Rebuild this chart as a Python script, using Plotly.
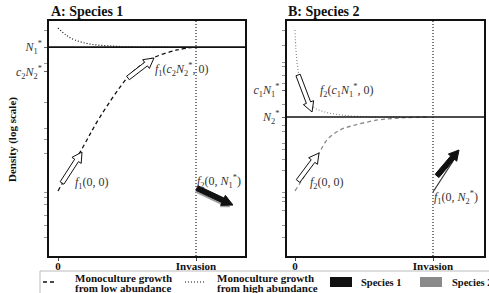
import math
import numpy as np
import plotly.graph_objects as go

# ---------------- data (x: 0 = start, 1 = invasion; y: relative density) -------------
x_ticks = [0, 1]
x_ticklabels = ["0", "Invasion"]

# Panel A: species 1
a_low_x = [0, 0.181, 0.304, 0.507, 0.594, 0.688, 0.862, 1.0]
a_low_y = [0.0252, 0.0776, 0.167, 0.466, 0.617, 0.757, 0.929, 1.0]
a_high_x = [0, 0.058, 0.123, 0.232, 0.377, 0.594, 0.812]
a_high_y = [1.63, 1.36, 1.20, 1.08, 1.03, 1.0, 1.0]
a_eq = 1.0            # N1*
a_c2N2 = 0.529        # c2 N2*

# Panel B: species 2
b_low_x = [0, 0.087, 0.174, 0.232, 0.326, 0.435, 0.601, 0.761, 0.978]
b_low_y = [0.0252, 0.0409, 0.0665, 0.0929, 0.120, 0.136, 0.155, 0.163, 0.167]
b_high_x = [0, 0.007, 0.022, 0.051, 0.123, 0.217, 0.341, 0.543, 0.761]
b_high_y = [1.55, 0.929, 0.557, 0.352, 0.222, 0.190, 0.176, 0.167, 0.167]
b_eq = 0.167          # N2*
b_c1N1 = 0.333        # c1 N1*

a_ticklabels = ["<i>N</i><sub>1</sub><sup>*</sup>", "<i>c</i><sub>2</sub><i>N</i><sub>2</sub><sup>*</sup>"]
b_ticklabels = ["<i>c</i><sub>1</sub><i>N</i><sub>1</sub><sup>*</sup>", "<i>N</i><sub>2</sub><sup>*</sup>"]

a_minor = [0.19, -0.177, -0.61, -0.899, -1.032, -1.177, -1.621, -1.666, -1.754, -1.866, -1.977, -2.11]
b_minor = [0.19, 0.023, -0.166, -0.221, -0.31, -0.399, -0.643, -0.866, -0.943, -1.066, -1.143,
           -1.254, -1.366, -1.621, -1.666, -1.721, -1.81, -1.977, -2.11]

legend_labels = [["Monoculture growth", "from low abundance"],
                 ["Monoculture growth", "from high abundance"],
                 "Species 1", "Species 2"]

SERIF = "Liberation Serif, Times New Roman, DejaVu Serif, serif"
BLACK = "#111111"
GRAY = "#8a8a8a"
DOT = "1px,2px"
DASH = "4px,3px"

L10 = lambda v: list(np.log10(np.array(v, dtype=float)))

fig = go.Figure()

# curves
fig.add_trace(go.Scatter(x=a_low_x, y=L10(a_low_y), mode="lines", line=dict(color=BLACK, width=1.3, dash=DASH, shape="spline"), xaxis="x", yaxis="y", showlegend=False))
fig.add_trace(go.Scatter(x=a_high_x, y=L10(a_high_y), mode="lines", line=dict(color=BLACK, width=1.2, dash=DOT, shape="spline"), xaxis="x", yaxis="y", showlegend=False))
fig.add_trace(go.Scatter(x=b_low_x, y=L10(b_low_y), mode="lines", line=dict(color=GRAY, width=1.3, dash=DASH, shape="spline"), xaxis="x2", yaxis="y2", showlegend=False))
fig.add_trace(go.Scatter(x=b_high_x, y=L10(b_high_y), mode="lines", line=dict(color=GRAY, width=1.2, dash=DOT, shape="spline"), xaxis="x2", yaxis="y2", showlegend=False))

shapes = []
annotations = []

# equilibrium lines and invasion lines
for xr, yr, eq in [("x", "y", a_eq), ("x2", "y2", b_eq)]:
    ly = math.log10(eq)
    shapes.append(dict(type="line", xref=xr + " domain", yref=yr, x0=0, x1=1, y0=ly, y1=ly,
                       line=dict(color=BLACK, width=1.6)))
    shapes.append(dict(type="line", xref=xr, yref=yr + " domain", x0=1, x1=1, y0=0, y1=1,
                       line=dict(color="#222", width=1.2, dash=DOT)))


def arrow_path(dx, dy, w, hw, hl):
    L = math.hypot(dx, dy)
    ux, uy = dx / L, dy / L
    px, py = -uy, ux
    n = L - hl
    pts = [(px * w / 2, py * w / 2),
           (ux * n + px * w / 2, uy * n + py * w / 2),
           (ux * n + px * hw / 2, uy * n + py * hw / 2),
           (dx, dy),
           (ux * n - px * hw / 2, uy * n - py * hw / 2),
           (ux * n - px * w / 2, uy * n - py * w / 2),
           (-px * w / 2, -py * w / 2)]
    return "M " + " L ".join(f"{a:.2f},{b:.2f}" for a, b in pts) + " Z"


def add_arrow(xr, yr, x, ly, dx, dy, fill, line, w=4.5, hw=11, hl=10, lw=1):
    shapes.append(dict(type="path", xref=xr, yref=yr, xsizemode="pixel", ysizemode="pixel",
                       xanchor=x, yanchor=ly, path=arrow_path(dx, dy, w, hw, hl),
                       fillcolor=fill, line=dict(color=line, width=lw)))

# hollow arrows (monoculture growth)
add_arrow("x", "y", 0.029, -1.51, 20, 31, "white", BLACK)
add_arrow("x", "y", 0.507, -0.343, 26, 20, "white", BLACK)
add_arrow("x2", "y2", 0.022, -0.31, 14, -37, "white", BLACK)
add_arrow("x2", "y2", 0.022, -1.488, 21, 28, "white", BLACK)
# invasion arrows
add_arrow("x", "y", 1.0, -1.599, 34, -16, "#9a9a9a", "#9a9a9a", w=3, hw=8, hl=9, lw=0.5)
add_arrow("x", "y", 1.007, -1.566, 36, -17, BLACK, BLACK, w=5, hw=11, hl=11)
shapes.append(dict(type="line", xref="x2", yref="y2", x0=1.0, x1=1.174, y0=-1.61, y1=-1.199,
                   line=dict(color="#333", width=1.2)))
add_arrow("x2", "y2", 1.029, -1.432, 22, 26, BLACK, BLACK, w=5, hw=11, hl=10)

# math labels
MF = dict(family=SERIF, size=12, color="#333")
labels = [
    ("x", "y", 0.109, -1.51, "<i>f</i><sub>1</sub>(0, 0)"),
    ("x", "y", 0.688, -0.254, "<i>f</i><sub>1</sub>(<i>c</i><sub>2</sub><i>N</i><sub>2</sub><sup>*</sup>, 0)"),
    ("x", "y", 0.993, -1.488, "<i>f</i><sub>2</sub>(0, <i>N</i><sub>1</sub><sup>*</sup>)"),
    ("x2", "y2", 0.167, -0.477, "<i>f</i><sub>2</sub>(<i>c</i><sub>1</sub><i>N</i><sub>1</sub><sup>*</sup>, 0)"),
    ("x2", "y2", 0.094, -1.51, "<i>f</i><sub>2</sub>(0, 0)"),
    ("x2", "y2", 0.993, -1.666, "<i>f</i><sub>1</sub>(0, <i>N</i><sub>2</sub><sup>*</sup>)"),
]
for xr, yr, x, y, t in labels:
    annotations.append(dict(xref=xr, yref=yr, x=x, y=y, text=t, showarrow=False,
                            xanchor="left", yanchor="middle", font=MF))

W, H = 489, 293
px_x = lambda p: p / W
px_y = lambda p: (H - p) / H

# titles
TF = dict(family=SERIF, size=14, color=BLACK)
annotations.append(dict(xref="paper", yref="paper", x=px_x(49), y=px_y(11), text="<b>A: Species 1</b>",
                        showarrow=False, xanchor="left", yanchor="middle", font=TF))
annotations.append(dict(xref="paper", yref="paper", x=px_x(286), y=px_y(11), text="<b>B: Species 2</b>",
                        showarrow=False, xanchor="left", yanchor="middle", font=TF))
annotations.append(dict(xref="paper", yref="paper", x=px_x(12), y=px_y(140), text="<b>Density (log scale)</b>",
                        textangle=-90, showarrow=False, xanchor="center", yanchor="middle",
                        font=dict(family=SERIF, size=11, color=BLACK)))

# legend box
shapes.append(dict(type="rect", xref="paper", yref="paper", x0=px_x(40), x1=px_x(495), y0=px_y(300), y1=px_y(271),
                   line=dict(color="#bbbbbb", width=1), fillcolor="white", layer="below"))
shapes.append(dict(type="line", xref="paper", yref="paper", x0=px_x(43), x1=px_x(57), y0=px_y(282), y1=px_y(282),
                   line=dict(color=BLACK, width=1.3, dash=DASH)))
shapes.append(dict(type="line", xref="paper", yref="paper", x0=px_x(185), x1=px_x(206), y0=px_y(282), y1=px_y(282),
                   line=dict(color=BLACK, width=1, dash=DOT)))
shapes.append(dict(type="rect", xref="paper", yref="paper", x0=px_x(330), x1=px_x(352), y0=px_y(287), y1=px_y(277),
                   line=dict(width=0), fillcolor=BLACK))
shapes.append(dict(type="rect", xref="paper", yref="paper", x0=px_x(420), x1=px_x(442), y0=px_y(287), y1=px_y(277),
                   line=dict(width=0), fillcolor=GRAY))
LF = dict(family=SERIF, size=11, color=BLACK)
for xpx, lines in [(73, legend_labels[0]), (215, legend_labels[1])]:
    for i, line in enumerate(lines):
        annotations.append(dict(xref="paper", yref="paper", x=px_x(xpx), y=px_y(277.5 + 10 * i), text=f"<b>{line}</b>",
                                showarrow=False, xanchor="left", yanchor="middle", font=LF))
for xpx, t in [(359, legend_labels[2]), (450, legend_labels[3])]:
    annotations.append(dict(xref="paper", yref="paper", x=px_x(xpx), y=px_y(282), text=f"<b>{t}</b>",
                            showarrow=False, xanchor="left", yanchor="middle",
                            font=dict(family=SERIF, size=10.5, color=BLACK)))

ydom = [px_y(256), px_y(21)]
yrange = [0.29 - 235 / 90, 0.29]
axline = dict(showline=True, linecolor=BLACK, linewidth=1.5, mirror=True, showgrid=False, zeroline=False)
xcommon = dict(axline, tickmode="array", tickvals=x_ticks, ticktext=[f"<b>{t}</b>" for t in x_ticklabels],
               ticks="outside", ticklen=3, tickcolor="#444", ticklabelstandoff=-4,
               tickfont=dict(family=SERIF, size=11, color=BLACK))
ycommon = dict(axline, range=yrange, domain=ydom, tickmode="array", ticks="outside", ticklen=3, tickcolor="#666",
               tickfont=dict(family=SERIF, size=12, color="#333"))

fig.update_layout(
    width=W, height=H, margin=dict(l=0, r=0, t=0, b=0),
    paper_bgcolor="white", plot_bgcolor="white", showlegend=False,
    xaxis=dict(xcommon, domain=[px_x(49), px_x(245)], range=[(49 - 58) / 138, (245 - 58) / 138], anchor="y"),
    xaxis2=dict(xcommon, domain=[px_x(286.5), px_x(484)], range=[(286.5 - 295) / 138, (484 - 295) / 138], anchor="y2"),
    yaxis=dict(ycommon, anchor="x", tickvals=[math.log10(a_eq), math.log10(a_c2N2)], ticktext=a_ticklabels,
               minor=dict(tickmode="array", tickvals=a_minor, ticks="outside", ticklen=3, tickcolor="#999", showgrid=False)),
    yaxis2=dict(ycommon, anchor="x2", tickvals=[math.log10(b_c1N1), math.log10(b_eq)], ticktext=b_ticklabels,
                minor=dict(tickmode="array", tickvals=b_minor, ticks="outside", ticklen=3, tickcolor="#999", showgrid=False)),
    shapes=shapes, annotations=annotations,
)

fig.write_html("out.html")
